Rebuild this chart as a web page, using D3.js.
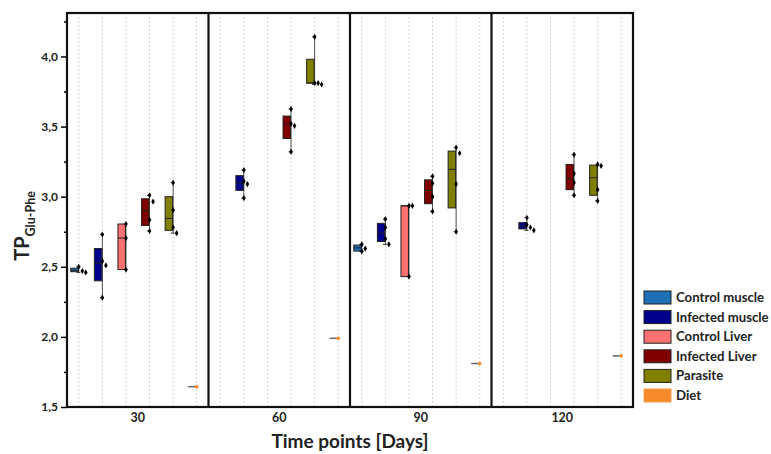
<!DOCTYPE html>
<html>
<head>
<meta charset="utf-8">
<script src="https://cdn.jsdelivr.net/npm/d3@7"></script>
<style>
  body { margin: 0; background: #fff; }
  svg { font-family: Lato, "Open Sans", sans-serif; font-weight: bold; }
</style>
</head>
<body>
<div id="chart"></div>
<script>
// data ________________________________________________________________________
const days = ['30', '60', '90', '120'];
const seriesNames = ['Control muscle', 'Infected muscle', 'Control Liver', 'Infected Liver', 'Parasite', 'Diet'];
const seriesColors = ['#1f6fb4', '#00008b', '#ff7070', '#800000', '#808000', '#f58a2a'];

// stats = [min, q1, median, q3, max], pts = single measurements
const controlMuscle = [
    {day: '30', stats: [2.46, 2.465, 2.475, 2.49, 2.50], pts: [2.50, 2.47, 2.46]},
    {day: '90', stats: [2.61, 2.612, 2.635, 2.655, 2.66], pts: [2.66, 2.63, 2.61]}
];
const infectedMuscle = [
    {day: '30', stats: [2.28, 2.40, 2.525, 2.63, 2.73], pts: [2.73, 2.54, 2.51, 2.28]},
    {day: '60', stats: [2.99, 3.045, 3.10, 3.15, 3.19], pts: [3.19, 3.11, 3.09, 2.99]},
    {day: '90', stats: [2.66, 2.68, 2.74, 2.81, 2.84], pts: [2.84, 2.78, 2.70, 2.66]},
    {day: '120', stats: [2.76, 2.77, 2.79, 2.815, 2.85], pts: [2.85, 2.80, 2.78, 2.76]}
];
const controlLiver = [
    {day: '30', stats: [2.48, 2.48, 2.705, 2.805, 2.805], pts: [2.805, 2.705, 2.48]},
    {day: '90', stats: [2.43, 2.43, 2.935, 2.935, 2.935], pts: [2.935, 2.935, 2.43]}
];
const infectedLiver = [
    {day: '30', stats: [2.755, 2.795, 2.90, 2.985, 3.01], pts: [3.01, 2.965, 2.835, 2.755]},
    {day: '60', stats: [3.32, 3.415, 3.52, 3.575, 3.625], pts: [3.625, 3.52, 3.505, 3.32]},
    {day: '90', stats: [2.895, 2.95, 3.045, 3.12, 3.145], pts: [3.145, 3.095, 3.0, 2.895]},
    {day: '120', stats: [3.01, 3.05, 3.13, 3.23, 3.30], pts: [3.30, 3.165, 3.10, 3.01]}
];
const parasite = [
    {day: '30', stats: [2.74, 2.76, 2.845, 3.00, 3.10], pts: [3.10, 2.905, 2.78, 2.74]},
    {day: '60', stats: [3.80, 3.81, 3.81, 3.98, 4.14], pts: [4.14, 3.81, 3.81, 3.80]},
    {day: '90', stats: [2.75, 2.92, 3.195, 3.325, 3.35], pts: [3.35, 3.31, 3.09, 2.75]},
    {day: '120', stats: [2.97, 3.01, 3.135, 3.225, 3.225], pts: [3.23, 3.22, 3.05, 2.97]}
];
const diet = [
    {day: '30', stats: [1.645, 1.645, 1.645, 1.645, 1.645], pts: [1.645]},
    {day: '60', stats: [1.99, 1.99, 1.99, 1.99, 1.99], pts: [1.99]},
    {day: '90', stats: [1.81, 1.81, 1.81, 1.81, 1.81], pts: [1.81]},
    {day: '120', stats: [1.865, 1.865, 1.865, 1.865, 1.865], pts: [1.865]}
];
const seriesData = [controlMuscle, infectedMuscle, controlLiver, infectedLiver, parasite, diet];
const yTicks = [1.5, 2.0, 2.5, 3.0, 3.5, 4.0];
const yMinorTicks = [1.75, 2.25, 2.75, 3.25, 3.75, 4.25];

// layout ______________________________________________________________________
const width = 771;
const height = 454;
const margin = {top: 13, left: 67, bottom: 47, right: 138};

const x = d3.scaleBand()
    .domain(days)
    .range([margin.left, width - margin.right])
    .padding(0);

const xIn = d3.scaleBand()
    .domain(seriesNames)
    .range([0, x.bandwidth()])
    .padding(0);

const y = d3.scaleLinear()
    .domain([1.5, 4.31])
    .range([height - margin.bottom, margin.top]);

const fmt = d => d3.format('.1f')(d).replace('.', ',');

const svg = d3.select('#chart').append('svg')
    .attr('width', width).attr('height', height);

// dotted guide lines at every slot
const guides = [];
for (const d of days) for (const s of seriesNames) guides.push(x(d) + xIn(s) + xIn.bandwidth() / 2);
svg.append('g')
    .selectAll('line').data(guides).enter().append('line')
    .attr('x1', d => d).attr('x2', d => d)
    .attr('y1', margin.top).attr('y2', height - margin.bottom)
    .attr('stroke', '#c8c8c8').attr('stroke-width', 1)
    .attr('stroke-dasharray', '1.5,2.5');

// y axis
const yAxis = g => g
    .attr('transform', `translate(${margin.left}, 0)`)
    .call(d3.axisLeft(y).tickValues(yTicks).tickFormat(fmt).tickSize(6).tickPadding(3))
    .call(g => g.select('.domain').remove())
    .call(g => g.selectAll('.tick line').attr('stroke', '#000').attr('stroke-width', 1.5))
    .call(g => g.selectAll('text').attr('font-size', 12).attr('font-weight', 'bold')
        .attr('font-family', 'Lato, sans-serif').attr('fill', '#222'));
svg.append('g').call(yAxis);

svg.append('g')
    .attr('transform', `translate(${margin.left}, 0)`)
    .call(d3.axisLeft(y).tickValues(yMinorTicks).tickFormat('').tickSize(3))
    .call(g => g.select('.domain').remove())
    .call(g => g.selectAll('.tick line').attr('stroke', '#000').attr('stroke-width', 1.5));

// x axis labels
svg.append('g')
    .attr('transform', `translate(0, ${height - margin.bottom})`)
    .call(d3.axisBottom(x).tickSize(0).tickPadding(6))
    .call(g => g.select('.domain').remove())
    .call(g => g.selectAll('text').attr('font-size', 12.5).attr('font-weight', 'bold')
        .attr('font-family', 'Lato, sans-serif').attr('fill', '#222'));

// boxes
const boxW = 7.5;
const marks = svg.append('g');
seriesData.forEach((series, si) => {
    const name = seriesNames[si];
    const color = seriesColors[si];
    for (const rec of series) {
        const cx = x(rec.day) + xIn(name) + xIn.bandwidth() / 2;
        const [mn, q1, md, q3, mx] = rec.stats;
        const g = marks.append('g');
        if (name === 'Diet') {
            g.append('line')
                .attr('x1', cx - boxW - 1).attr('x2', cx)
                .attr('y1', y(md)).attr('y2', y(md))
                .attr('stroke', '#666').attr('stroke-width', 1.5);
            g.append('circle')
                .attr('cx', cx).attr('cy', y(rec.pts[0])).attr('r', 1.8)
                .attr('fill', color);
            continue;
        }
        // whisker
        g.append('line')
            .attr('x1', cx).attr('x2', cx)
            .attr('y1', y(mx)).attr('y2', y(mn))
            .attr('stroke', '#555').attr('stroke-width', 1);
        [mn, mx].forEach(v => g.append('line')
            .attr('x1', cx - 2.5).attr('x2', cx + 1.5)
            .attr('y1', y(v)).attr('y2', y(v))
            .attr('stroke', '#333').attr('stroke-width', 1));
        // box
        g.append('rect')
            .attr('x', cx - boxW - 0.5).attr('width', boxW)
            .attr('y', y(q3)).attr('height', Math.max(0.5, y(q1) - y(q3)))
            .attr('fill', color).attr('stroke', '#222').attr('stroke-width', 1);
        g.append('line')
            .attr('x1', cx - boxW - 0.5).attr('x2', cx - 0.5)
            .attr('y1', y(md)).attr('y2', y(md))
            .attr('stroke', '#222').attr('stroke-width', 1);
        // points, nudged right when they crowd each other
        const placed = [];
        const pts = rec.pts.slice().sort((a, b) => b - a);
        for (const v of pts) {
            let off = 0;
            while (placed.some(p => p.off === off && Math.abs(p.py - y(v)) < 7)) off += 3.5;
            placed.push({py: y(v), off: off});
        }
        g.selectAll('path.pt').data(placed).enter().append('path')
            .attr('class', 'pt')
            .attr('transform', p => `translate(${cx + p.off}, ${p.py})`)
            .attr('d', d3.symbol(d3.symbolDiamond).size(11))
            .attr('fill', '#000');
    }
});

// frame and panel dividers
svg.append('rect')
    .attr('x', margin.left).attr('y', margin.top)
    .attr('width', width - margin.left - margin.right)
    .attr('height', height - margin.top - margin.bottom)
    .attr('fill', 'none').attr('stroke', '#111').attr('stroke-width', 2.2);
svg.append('g')
    .selectAll('line').data(days.slice(1)).enter().append('line')
    .attr('x1', d => x(d)).attr('x2', d => x(d))
    .attr('y1', margin.top).attr('y2', height - margin.bottom)
    .attr('stroke', '#111').attr('stroke-width', 2.2);

// axis titles
svg.append('text')
    .attr('x', (margin.left + width - margin.right) / 2).attr('y', 448)
    .attr('text-anchor', 'middle')
    .attr('font-size', 19).attr('fill', '#222')
    .text('Time points [Days]');

const yTitle = svg.append('text')
    .attr('transform', 'translate(29, 226) rotate(-90)')
    .attr('text-anchor', 'middle')
    .attr('fill', '#222');
yTitle.append('tspan').attr('font-size', 20).text('TP');
yTitle.append('tspan').attr('font-size', 12.5).attr('dy', 6).text('Glu-Phe');

// legend
const legend = svg.append('g')
    .selectAll('g').data(seriesNames).enter().append('g')
    .attr('transform', (d, i) => `translate(644, ${291 + i * 19.6})`);
legend.append('rect')
    .attr('width', 27).attr('height', 13)
    .attr('fill', (d, i) => seriesColors[i])
    .attr('stroke', (d, i) => i === 5 ? '#f5a050' : '#222').attr('stroke-width', 1);
legend.append('text')
    .attr('x', 32).attr('y', 11)
    .attr('font-size', 13.2).attr('fill', '#222')
    .text(d => d);
</script>
</body>
</html>
